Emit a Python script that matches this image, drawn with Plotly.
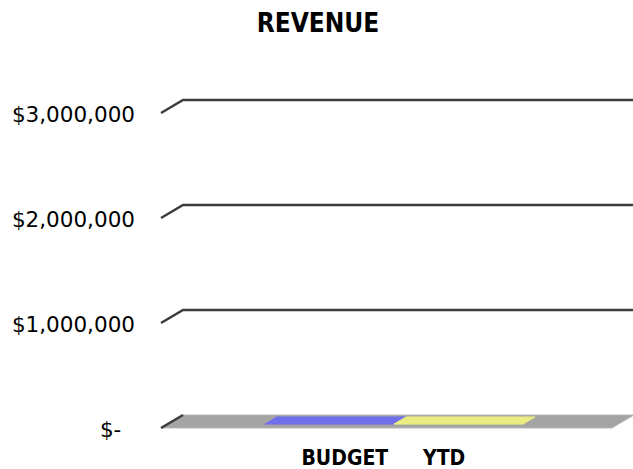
import plotly.graph_objects as go

# ---------------- data ----------------
CATEGORIES = ["BUDGET", "YTD"]
VALUES = [0, 0]
TICK_VALUES = [0, 1_000_000, 2_000_000, 3_000_000]
TICK_LABELS = ["$-\u00a0\u00a0", "$1,000,000", "$2,000,000", "$3,000,000"]
BAR_COLORS = ["#7070EC", "#ECEC84"]

# ---------------- geometry / layout ----------------
W, H = 633, 469
ML, MR, MT, MB = 150, 0, 60, 30
PX_PER_UNIT_X = 129.0          # one category width in pixels
X0_PX = 322.9                  # pixel of category 0 centre at floor front
PX_PER_M = 105.0               # pixels per 1,000,000
Y0_PX = 415.0                  # pixel of value 0 on back wall
DEPTH_PX_X, DEPTH_PX_Y = 22.0, 13.0

DX = DEPTH_PX_X / PX_PER_UNIT_X
DY = DEPTH_PX_Y / PX_PER_M * 1e6
X_RANGE = [(ML - X0_PX) / PX_PER_UNIT_X, (W - MR - X0_PX) / PX_PER_UNIT_X]
Y_RANGE = [(Y0_PX - (H - MB)) / PX_PER_M * 1e6, (Y0_PX - MT) / PX_PER_M * 1e6]
FLOOR_FRONT_L = (161 - X0_PX) / PX_PER_UNIT_X
FLOOR_FRONT_R = (612 - X0_PX) / PX_PER_UNIT_X
BAR_D0, BAR_D1 = 0.30, 0.85    # bar depth band (0 = front, 1 = back)
LABEL_POS = [0.17, 0.94]
NARROW_BOLD = "DejaVu Sans Condensed, Liberation Sans Narrow, Liberation Sans, sans-serif"

fig = go.Figure()

# floor
fx = [FLOOR_FRONT_L, FLOOR_FRONT_R, FLOOR_FRONT_R + DX, FLOOR_FRONT_L + DX, FLOOR_FRONT_L]
fy = [-DY, -DY, 0, 0, -DY]
fig.add_trace(go.Scatter(x=fx, y=fy, mode="lines", fill="toself",
                         fillcolor="#A4A4A4", line=dict(color="#B8B8B8", width=1),
                         hoverinfo="skip", showlegend=False))

# gridlines with side-wall slant
for v in TICK_VALUES:
    if v == 0:
        gx = [FLOOR_FRONT_L, FLOOR_FRONT_L + DX]
        gy = [-DY, 0]
    else:
        gx = [FLOOR_FRONT_L, FLOOR_FRONT_L + DX, X_RANGE[1]]
        gy = [v - DY, v, v]
    fig.add_trace(go.Scatter(x=gx, y=gy, mode="lines",
                             line=dict(color="#3C3C3C", width=2.5),
                             hoverinfo="skip", showlegend=False))

# bars (front face + top face)
for i, (cat, v) in enumerate(zip(CATEGORIES, VALUES)):
    x0, x1 = i - 0.5, i + 0.5
    col = BAR_COLORS[i]
    a0x, a0y = BAR_D0 * DX, -DY + BAR_D0 * DY
    a1x, a1y = BAR_D1 * DX, -DY + BAR_D1 * DY
    if v > 0:
        fig.add_trace(go.Scatter(
            x=[x0 + a0x, x1 + a0x, x1 + a0x, x0 + a0x, x0 + a0x],
            y=[a0y, a0y, a0y + v, a0y + v, a0y],
            mode="lines", fill="toself", fillcolor=col, line=dict(width=0, color=col),
            hoverinfo="skip", showlegend=False))
    fig.add_trace(go.Scatter(
        x=[x0 + a0x, x1 + a0x, x1 + a1x, x0 + a1x, x0 + a0x],
        y=[a0y + v, a0y + v, a1y + v, a1y + v, a0y + v],
        mode="lines", fill="toself", fillcolor=col, line=dict(width=1, color=col),
        name=cat, hoverinfo="name", showlegend=False))

fig.update_layout(
    width=W, height=H,
    margin=dict(l=ML, r=MR, t=MT, b=MB),
    paper_bgcolor="white", plot_bgcolor="white",
    title=dict(text="REVENUE", x=318 / W, xanchor="center",
               y=1 - 23 / H, yanchor="middle", yref="container",
               font=dict(family=NARROW_BOLD, size=26, color="black", weight="bold")),
    xaxis=dict(range=X_RANGE, showgrid=False, zeroline=False, showline=False,
               tickvals=LABEL_POS, ticktext=CATEGORIES, ticks="",
               tickfont=dict(family=NARROW_BOLD, size=21, color="black", weight="bold"),
               ticklabelstandoff=4),
    yaxis=dict(range=Y_RANGE, showgrid=False, zeroline=False, showline=False,
               tickvals=TICK_VALUES, ticktext=TICK_LABELS, ticks="",
               tickfont=dict(family="DejaVu Sans", size=21.5, color="black"),
               ticklabelstandoff=14, ticklabelshift=14),
    showlegend=False,
)

fig.write_html("out.html")
